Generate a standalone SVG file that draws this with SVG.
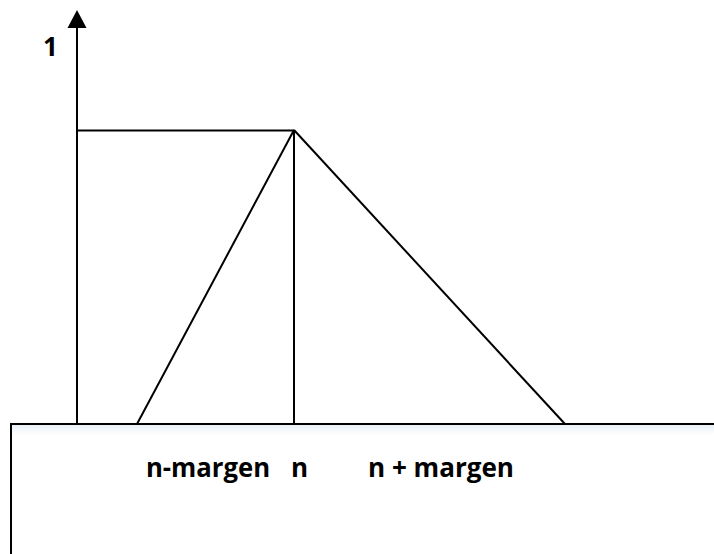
<svg xmlns="http://www.w3.org/2000/svg" width="714" height="554" viewBox="0 0 714 554">
  <style>
    .ln { stroke: #000; stroke-width: 2; fill: none; stroke-linecap: butt; }
    .lbl { font-family: "Open Sans", "Liberation Sans", sans-serif; font-weight: bold; font-size: 26px; fill: #000; }
  </style>
  <defs>
    <linearGradient id="shade" x1="0" y1="0" x2="0" y2="1">
      <stop offset="0" stop-color="#e9f0f8"/>
      <stop offset="1" stop-color="#ffffff"/>
    </linearGradient>
  </defs>
  <rect width="714" height="554" fill="#fff"/>
  <g id="base">
    <rect x="11" y="424" width="720" height="150" fill="#ffffff" stroke="#000" stroke-width="2"/>
    <rect x="12" y="425" width="702" height="10" fill="url(#shade)"/>
  </g>
  <g id="connectors">
    <line class="ln" x1="77" y1="424" x2="77" y2="26" stroke-width="2.5"/>
    <path d="M77 10 L67.5 28 L86.5 28 Z" fill="#000"/>
    <line class="ln" x1="77" y1="130.5" x2="294" y2="130.5"/>
    <line class="ln" x1="137" y1="424" x2="294" y2="130"/>
    <line class="ln" x1="294" y1="130" x2="565" y2="424"/>
    <line class="ln" x1="294" y1="130" x2="294" y2="424"/>
  </g>
  <g id="label-1"><text class="lbl" x="43" y="56">1</text></g>
  <g id="label-nmargen"><text class="lbl" x="146" y="477" textLength="124" lengthAdjust="spacingAndGlyphs">n-margen</text></g>
  <g id="label-n"><text class="lbl" x="291" y="477">n</text></g>
  <g id="label-nplusmargen"><text class="lbl" x="368" y="477" textLength="146" lengthAdjust="spacingAndGlyphs">n + margen</text></g>
</svg>
